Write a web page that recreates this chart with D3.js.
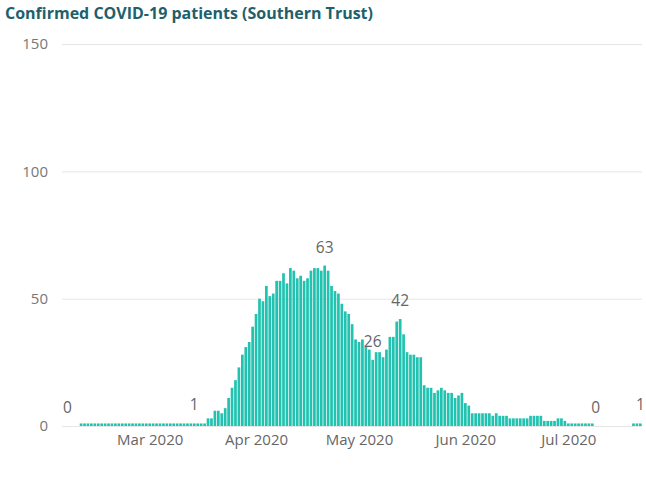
<!DOCTYPE html>
<html lang="en">
<head>
  <meta charset="UTF-8">
  <title>Confirmed COVID-19 patients (Southern Trust)</title>
  <script src="https://cdn.jsdelivr.net/npm/d3@7"></script>
  <style>
    body { margin: 0; background: #fff; }
    svg text { font-family: "Open Sans", "Noto Sans", sans-serif; }
  </style>
</head>
<body>
<svg width="646" height="477"></svg>
<script>
// daily values, starting 6 Feb 2020
var startDate = new Date(2020, 1, 6);
var patients = [
  0, 0, 0, 0,
  // 10 Feb - 17 Mar
  1, 1, 1, 1, 1, 1, 1, 1, 1, 1, 1, 1, 1, 1, 1, 1, 1, 1, 1, 1,
  1, 1, 1, 1, 1, 1, 1, 1, 1, 1, 1, 1, 1, 1, 1, 1, 1,
  // 18 Mar - 31 Mar
  3, 3, 6, 6, 5, 7, 11, 15, 18, 23, 28, 31, 33, 39,
  // April
  44, 50, 49, 55, 51, 52, 57, 57, 60, 56, 62, 61, 58, 59, 57,
  58, 61, 62, 62, 61, 63, 61, 55, 53, 52, 48, 45, 44, 40, 34,
  // May
  33, 34, 31, 30, 26, 29, 29, 27, 30, 35, 35, 41, 42, 36, 29, 28,
  28, 27, 27, 16, 15, 15, 13, 14, 15, 14, 13, 13, 11, 12, 13,
  // June
  9, 8, 5, 5, 5, 5, 5, 5, 4, 5, 4, 4, 4, 3, 3, 3, 3, 3, 3,
  4, 4, 4, 4, 2, 2, 2, 2, 3, 3, 2,
  // July
  1, 1, 1, 1, 1, 1, 1, 1, 0, 0, 0, 0, 0, 0, 0, 0, 0, 0, 0, 1, 1, 1
];
// points that carry a data label
var labelledDays = ["2020-02-06", "2020-03-14", "2020-04-21", "2020-05-05", "2020-05-13", "2020-07-09", "2020-07-22"];
var yTicks = [0, 50, 100, 150];
var monthTicks = [new Date(2020, 2, 1), new Date(2020, 3, 1), new Date(2020, 4, 1), new Date(2020, 5, 1), new Date(2020, 6, 1)];

var fmtDay = d3.timeFormat("%Y-%m-%d");
var data = patients.map(function(v, i) {
  return { date: d3.timeDay.offset(startDate, i), value: v };
});

var svg = d3.select("svg");

// title
svg.append("text")
  .attr("x", 5)
  .attr("y", 19)
  .style("font-size", "16px")
  .style("font-weight", "bold")
  .style("fill", "#215f6c")
  .text("Confirmed COVID-19 patients (Southern Trust)");

var x = d3.scaleTime()
  .domain([new Date(2020, 1, 1), new Date(2020, 6, 24)])
  .range([50.2, 647.2]);
var y = d3.scaleLinear().domain([0, 150]).range([426, 44]);

var gridLeft = 62, gridRight = 642;

// gridlines
svg.append("g")
  .selectAll("line")
  .data(yTicks)
  .enter().append("line")
  .attr("x1", gridLeft)
  .attr("x2", gridRight)
  .attr("y1", function(d) { return y(d) + 0.5; })
  .attr("y2", function(d) { return y(d) + 0.5; })
  .attr("stroke", "#e6e6e6")
  .attr("stroke-width", 1);

// y axis
var yAxis = svg.append("g")
  .attr("transform", "translate(48,0)")
  .call(d3.axisLeft(y).tickValues(yTicks).tickSize(0).tickPadding(0));
yAxis.select(".domain").remove();
yAxis.selectAll("text")
  .style("font-size", "15px")
  .style("fill", "#777");

// x axis
var xAxis = svg.append("g")
  .attr("transform", "translate(0,434)")
  .call(d3.axisBottom(x).tickValues(monthTicks).tickFormat(d3.timeFormat("%b %Y")).tickSize(0).tickPadding(0));
xAxis.select(".domain").remove();
xAxis.selectAll("text")
  .style("font-size", "15px")
  .style("fill", "#666");

// bars
var bw = 2.7;
svg.append("g")
  .selectAll("rect")
  .data(data)
  .enter().append("rect")
  .attr("x", function(d) { return x(d.date) - bw / 2; })
  .attr("y", function(d) { return y(d.value); })
  .attr("width", bw)
  .attr("height", function(d) { return y(0) - y(d.value); })
  .attr("fill", "#22c2b0");

// data labels
svg.append("g")
  .selectAll("text")
  .data(data.filter(function(d) { return labelledDays.indexOf(fmtDay(d.date)) >= 0; }))
  .enter().append("text")
  .attr("x", function(d) { return x(d.date); })
  .attr("y", function(d) { return y(d.value) - 13; })
  .attr("text-anchor", "middle")
  .style("font-size", "15.5px")
  .style("fill", "#666")
  .text(function(d) { return d.value; });
</script>
</body>
</html>
